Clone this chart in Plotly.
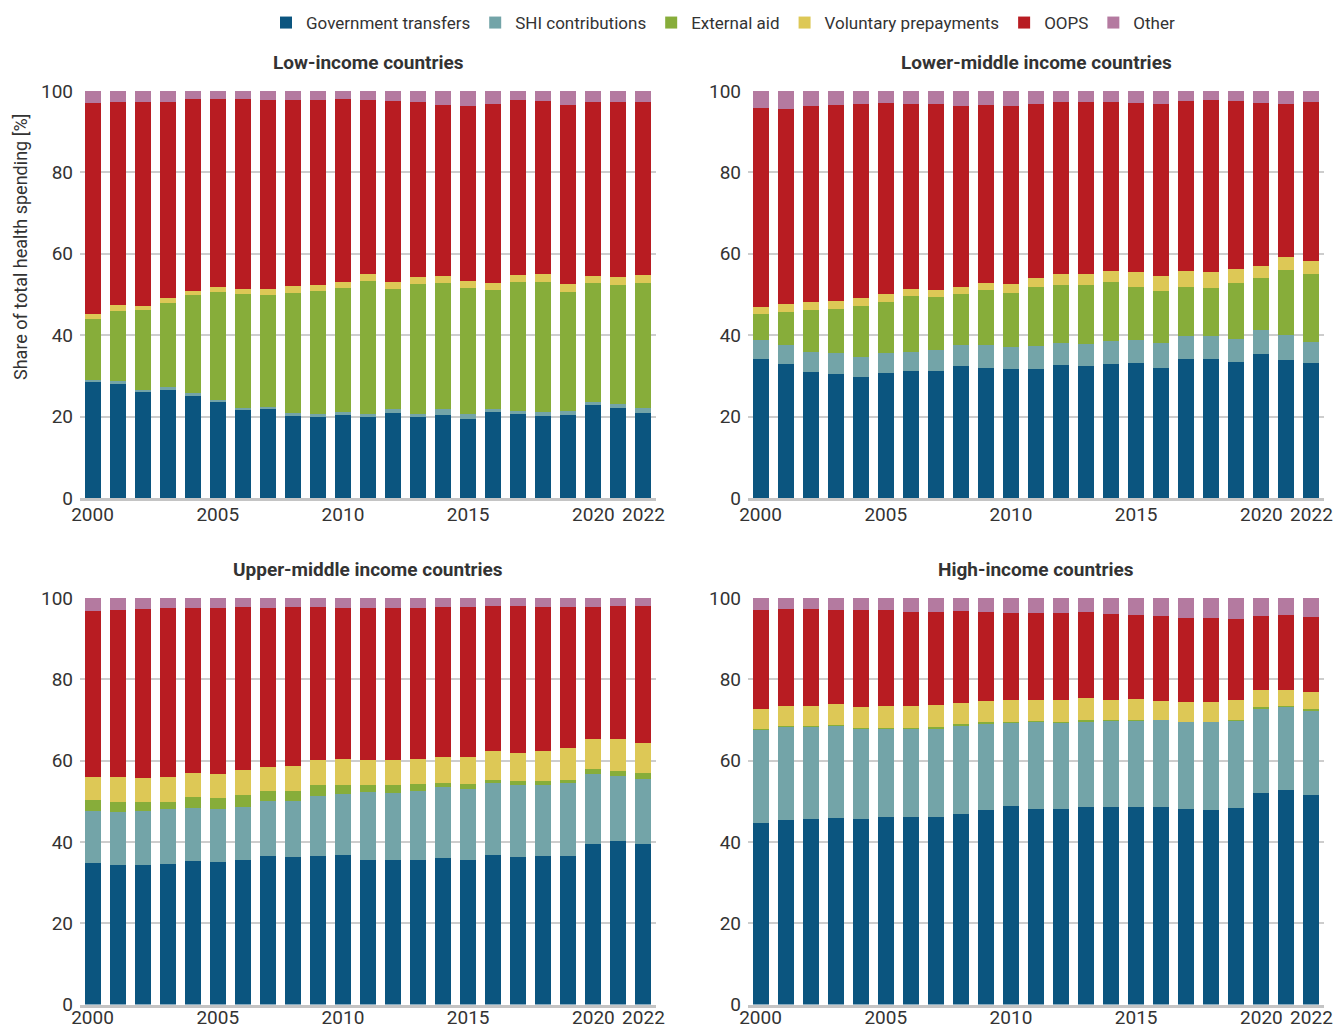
import plotly.graph_objects as go

years = list(range(2000, 2023))
tick_years = [2000, 2005, 2010, 2015, 2020, 2022]

series_names = ["Government transfers", "SHI contributions", "External aid",
                "Voluntary prepayments", "OOPS", "Other"]
series_colors = ["#0b557f", "#73a4a8", "#87ad3a", "#ddc856", "#b81c22", "#b47aa0"]

panel_titles = ["Low-income countries", "Lower-middle income countries",
                "Upper-middle income countries", "High-income countries"]

# Low-income countries
li_gov = [28.5,28.0,26.1,26.6,25.1,23.6,21.6,21.9,20.2,19.9,20.4,19.9,20.9,19.9,20.4,19.4,21.1,20.7,20.2,20.4,22.9,22.1,20.9]
li_shi = [0.5,0.7,0.5,0.6,0.6,0.5,0.5,0.4,0.7,0.8,0.7,0.8,0.9,0.8,1.4,1.3,0.7,0.6,0.9,1.0,0.7,1.0,1.2]
li_ext = [14.9,17.2,19.5,20.7,24.1,26.5,28.0,27.5,29.4,30.1,30.5,32.6,29.5,31.8,31.0,30.9,29.3,31.7,31.9,29.2,29.2,29.2,30.7]
li_vol = [1.3,1.5,1.0,1.2,1.0,1.2,1.2,1.5,1.7,1.5,1.4,1.7,1.7,1.8,1.7,1.7,1.7,1.8,2.0,1.9,1.7,2.0,2.0]
li_oops = [51.8,49.9,50.2,48.2,47.2,46.2,46.7,46.5,45.8,45.5,45.0,42.8,44.5,43.0,42.1,43.0,44.0,43.0,42.5,44.1,42.8,43.0,42.5]
li_other = [3.0,2.7,2.7,2.7,2.0,2.0,2.0,2.2,2.2,2.2,2.0,2.2,2.5,2.7,3.4,3.7,3.2,2.2,2.5,3.4,2.7,2.7,2.7]

# Lower-middle income countries
lmi_gov = [34.1,32.9,30.9,30.4,29.7,30.7,31.1,31.1,32.4,31.9,31.6,31.6,32.6,32.4,32.9,33.1,31.9,34.1,34.1,33.4,35.3,33.9,33.1]
lmi_shi = [4.8,4.6,5.0,5.2,4.9,4.9,4.8,5.3,5.1,5.6,5.4,5.8,5.4,5.5,5.6,5.8,6.1,5.7,5.7,5.6,6.0,6.1,5.3]
lmi_ext = [6.3,8.2,10.2,10.8,12.5,12.5,13.7,12.9,12.6,13.6,13.3,14.4,14.3,14.4,14.5,12.9,12.8,12.0,11.8,13.8,12.7,16.0,16.6]
lmi_vol = [1.7,1.9,2.0,2.0,2.0,2.0,1.7,1.8,1.7,1.7,2.2,2.2,2.7,2.7,2.7,3.7,3.7,3.9,3.9,3.4,3.0,3.2,3.2]
lmi_oops = [48.9,48.0,48.2,48.2,47.7,46.9,45.5,45.7,44.5,43.8,43.8,42.8,42.3,42.3,41.6,41.5,42.3,41.8,42.3,41.3,40.0,37.6,39.1]
lmi_other = [4.2,4.4,3.7,3.4,3.2,3.0,3.2,3.2,3.7,3.4,3.7,3.2,2.7,2.7,2.7,3.0,3.2,2.5,2.2,2.5,3.0,3.2,2.7]

# Upper-middle income countries
umi_gov = [34.9,34.2,34.2,34.6,35.4,35.1,35.6,36.6,36.4,36.6,36.9,35.6,35.6,35.6,36.1,35.6,36.9,36.4,36.6,36.6,39.6,40.3,39.6]
umi_shi = [12.8,13.2,13.5,13.4,13.0,12.9,13.0,13.4,13.7,14.8,15.0,16.7,16.5,17.0,17.3,17.3,17.6,17.7,17.5,17.8,17.2,16.0,15.8]
umi_ext = [2.7,2.5,2.2,1.9,2.7,2.9,3.0,2.6,2.5,2.7,2.2,1.8,2.0,1.7,1.1,1.4,0.8,0.9,0.9,0.9,1.2,1.2,1.6]
umi_vol = [5.6,6.1,5.9,6.1,5.9,5.9,6.1,5.9,6.1,6.1,6.3,6.1,6.1,6.1,6.4,6.6,7.1,6.9,7.4,7.8,7.4,7.9,7.4]
umi_oops = [40.8,41.1,41.5,41.5,40.5,40.7,40.1,39.0,39.1,37.6,37.1,37.3,37.3,37.1,36.9,36.9,35.6,36.1,35.4,34.7,32.4,32.6,33.6]
umi_other = [3.2,2.9,2.7,2.5,2.5,2.5,2.2,2.5,2.2,2.2,2.5,2.5,2.5,2.5,2.2,2.2,2.0,2.0,2.2,2.2,2.2,2.0,2.0]

# High-income countries
hi_gov = [44.7,45.5,45.7,45.9,45.7,46.2,46.2,46.2,46.9,47.9,48.9,48.2,48.2,48.6,48.6,48.6,48.6,48.2,47.9,48.4,52.1,52.8,51.6]
hi_shi = [22.9,22.8,22.6,22.7,22.1,21.6,21.6,21.7,21.5,21.3,20.4,21.3,21.1,20.9,21.3,21.3,21.4,21.3,21.6,21.4,20.8,20.4,20.7]
hi_ext = [0.1,0.2,0.2,0.2,0.2,0.3,0.3,0.4,0.6,0.3,0.3,0.2,0.2,0.4,0.2,0.2,0.1,0.1,0.1,0.1,0.3,0.2,0.3]
hi_vol = [5.0,5.0,5.0,5.2,5.2,5.4,5.4,5.4,5.2,5.2,5.3,5.2,5.4,5.5,4.8,5.1,4.6,4.8,4.8,5.0,4.2,4.0,4.3]
hi_oops = [24.4,23.8,23.8,23.1,23.9,23.6,23.1,22.9,22.6,21.9,21.4,21.4,21.4,21.2,21.2,20.7,20.9,20.7,20.7,19.9,18.2,18.5,18.4]
hi_other = [2.9,2.7,2.7,2.9,2.9,2.9,3.4,3.4,3.2,3.4,3.7,3.7,3.7,3.4,3.9,4.1,4.4,4.9,4.9,5.2,4.4,4.1,4.7]

panels = [
    [li_gov, li_shi, li_ext, li_vol, li_oops, li_other],
    [lmi_gov, lmi_shi, lmi_ext, lmi_vol, lmi_oops, lmi_other],
    [umi_gov, umi_shi, umi_ext, umi_vol, umi_oops, umi_other],
    [hi_gov, hi_shi, hi_ext, hi_vol, hi_oops, hi_other],
]

# page has an 8px body margin; size the figure to reach the window's edges
OFF = 8
W, H = 1343 - OFF, 1030 - OFF
FONT = "Roboto"
TXT = "#333333"

def px_x(v):
    return (v - OFF) / W

def px_y(v):
    return 1 - (v - OFF) / H

x_domains = [[px_x(80), px_x(656)], [px_x(748), px_x(1324)]]
y_domains = [[px_y(498), px_y(91)], [px_y(1004.5), px_y(598)]]

fig = go.Figure()
for p, data in enumerate(panels):
    ax = "" if p == 0 else str(p + 1)
    for s, vals in enumerate(data):
        fig.add_trace(go.Bar(
            x=years, y=vals, name=series_names[s],
            marker=dict(color=series_colors[s], line=dict(width=0)),
            xaxis="x" + ax, yaxis="y" + ax,
            legendgroup=series_names[s], showlegend=(p == 0),
        ))

layout = dict(
    width=W, height=H, barmode="stack", bargap=0.36,
    margin=dict(l=0, r=0, t=0, b=0, autoexpand=False),
    paper_bgcolor="white", plot_bgcolor="white",
    font=dict(family=FONT, color=TXT, size=18),
    legend=dict(orientation="h", x=px_x(723), xanchor="center", y=px_y(23), yanchor="middle",
                font=dict(size=17, color=TXT), itemclick=False, traceorder="normal",
                tracegroupgap=0, itemwidth=30),
    annotations=[],
)

for p in range(4):
    col = p % 2
    row = p // 2
    key = "" if p == 0 else str(p + 1)
    layout["xaxis" + key] = dict(
        domain=x_domains[col], anchor="y" + key, range=[1999.5, 2022.5],
        tickmode="array", tickvals=tick_years, ticktext=[str(t) for t in tick_years],
        showgrid=False, zeroline=False, showline=True, linecolor="#c4c4c4", linewidth=3,
        ticks="", tickfont=dict(size=19, color=TXT),
        ticklabelstandoff=-3 if row == 0 else -6,
        fixedrange=True,
    )
    layout["yaxis" + key] = dict(
        domain=y_domains[row], anchor="x" + key, range=[0, 100],
        tickvals=[0, 20, 40, 60, 80, 100], showgrid=True, gridcolor="#cdcdcd", gridwidth=1.5,
        zeroline=False, showline=False, ticks="", tickfont=dict(size=19, color=TXT),
        ticklabelstandoff=6, fixedrange=True,
    )
    cx = (x_domains[col][0] + x_domains[col][1]) / 2
    ty = px_y(62) if row == 0 else px_y(569)
    layout["annotations"].append(dict(
        text="<b>" + panel_titles[p] + "</b>", x=cx, y=ty, xref="paper", yref="paper",
        xanchor="center", yanchor="middle", showarrow=False,
        font=dict(size=19, color=TXT, family=FONT),
    ))

layout["annotations"].append(dict(
    text="Share of total health spending [%]", x=px_x(20), y=px_y(247),
    xref="paper", yref="paper", xanchor="center", yanchor="middle",
    textangle=-90, showarrow=False, font=dict(size=18, color=TXT, family=FONT),
))

fig.update_layout(**layout)
fig.write_html("out.html")
